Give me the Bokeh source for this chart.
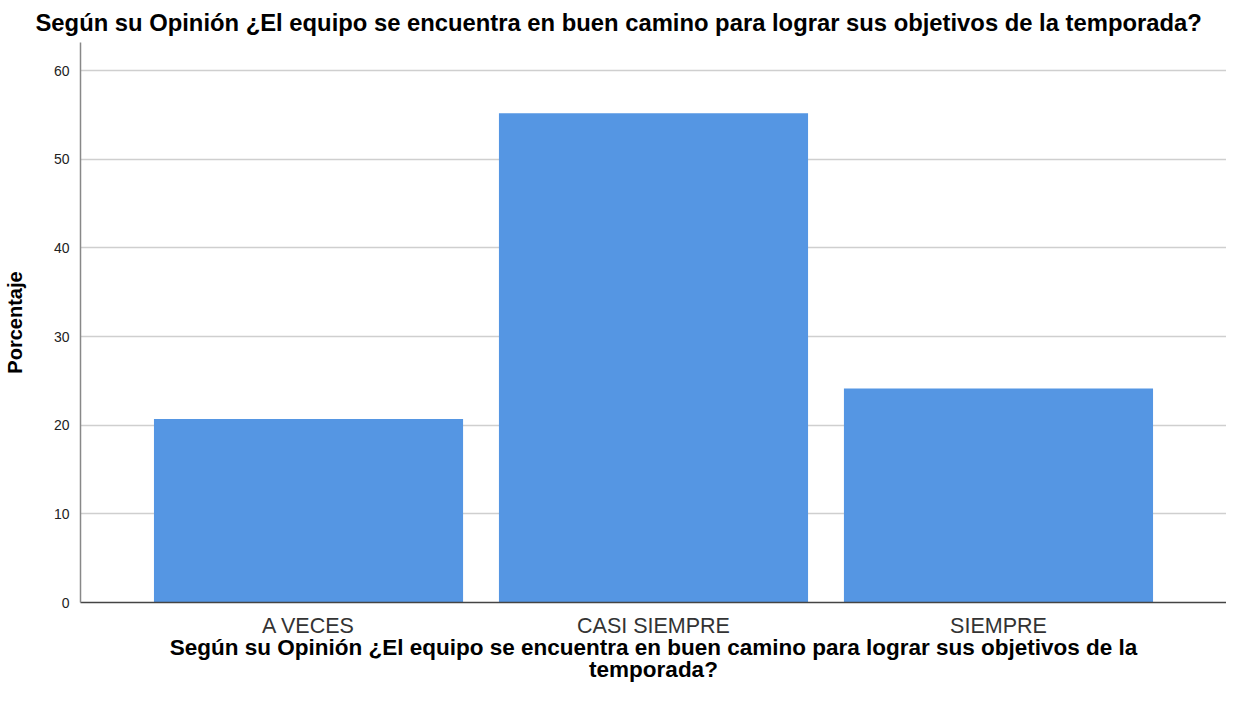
from bokeh.plotting import figure
from bokeh.models import FactorRange, Range1d, FixedTicker, ColumnDataSource
from bokeh.embed import file_html
from bokeh.resources import INLINE

categories = ["A VECES", "CASI SIEMPRE", "SIEMPRE"]
percentages = [20.69, 55.17, 24.14]
y_ticks = [0, 10, 20, 30, 40, 50, 60]

title_text = "Según su Opinión ¿El equipo se encuentra en buen camino para lograr sus objetivos de la temporada?"
x_label = "Según su Opinión ¿El equipo se encuentra en buen camino para lograr sus objetivos de la\ntemporada?"
y_label = "Porcentaje"

FONT = "Liberation Sans"

src = ColumnDataSource(dict(cat=categories, pct=percentages))

p = figure(
    x_range=FactorRange(factors=categories, range_padding=0.1073, range_padding_units="percent"),
    y_range=Range1d(0, 63.16),
    width=1217, height=693,
    output_backend="svg", toolbar_location=None,
    min_border_left=71, min_border_right=0, min_border_top=42, min_border_bottom=91,
)
p.frame_width = 1146
p.frame_height = 560

p.vbar(x="cat", top="pct", width=0.896, source=src, fill_color="#5596e3", line_color=None)

p.title.text = title_text
p.title.text_font = FONT
p.title.text_font_size = "23.8px"
p.title.text_font_style = "bold"
p.title.text_color = "#000000"
p.title.align = "left"
p.title.offset = -45
p.title.standoff = 13

p.outline_line_color = None
p.background_fill_color = "white"
p.border_fill_color = "white"

p.xgrid.grid_line_color = None
p.ygrid.grid_line_color = "#cfcfcf"
p.ygrid.grid_line_width = 1.5
p.ygrid.ticker = FixedTicker(ticks=y_ticks)

p.yaxis.ticker = FixedTicker(ticks=y_ticks)
p.yaxis.axis_line_color = "#888888"
p.yaxis.axis_line_width = 1.5
p.yaxis.major_tick_line_color = None
p.yaxis.minor_tick_line_color = None
p.yaxis.major_label_text_font = FONT
p.yaxis.major_label_text_font_size = "14px"
p.yaxis.major_label_text_color = "#222222"
p.yaxis.major_label_standoff = 5
p.yaxis.axis_label = y_label
p.yaxis.axis_label_text_font = FONT
p.yaxis.axis_label_text_font_size = "20px"
p.yaxis.axis_label_text_font_style = "bold"
p.yaxis.axis_label_text_color = "#000000"
p.yaxis.axis_label_standoff = 25

p.xaxis.axis_line_color = "#444444"
p.xaxis.axis_line_width = 1.5
p.xaxis.major_tick_line_color = None
p.xaxis.minor_tick_line_color = None
p.xaxis.major_label_text_font = FONT
p.xaxis.major_label_text_font_size = "21.5px"
p.xaxis.major_label_text_color = "#333333"
p.xaxis.major_label_standoff = 5
p.xaxis.axis_label = x_label
p.xaxis.axis_label_text_font = FONT
p.xaxis.axis_label_text_font_size = "22.5px"
p.xaxis.axis_label_text_font_style = "bold"
p.xaxis.axis_label_text_color = "#000000"
p.xaxis.axis_label_standoff = -6
p.xaxis.axis_label_text_align = "center"
p.xaxis.axis_label_text_line_height = 0.88

open("out.html", "w").write(file_html(p, INLINE))
